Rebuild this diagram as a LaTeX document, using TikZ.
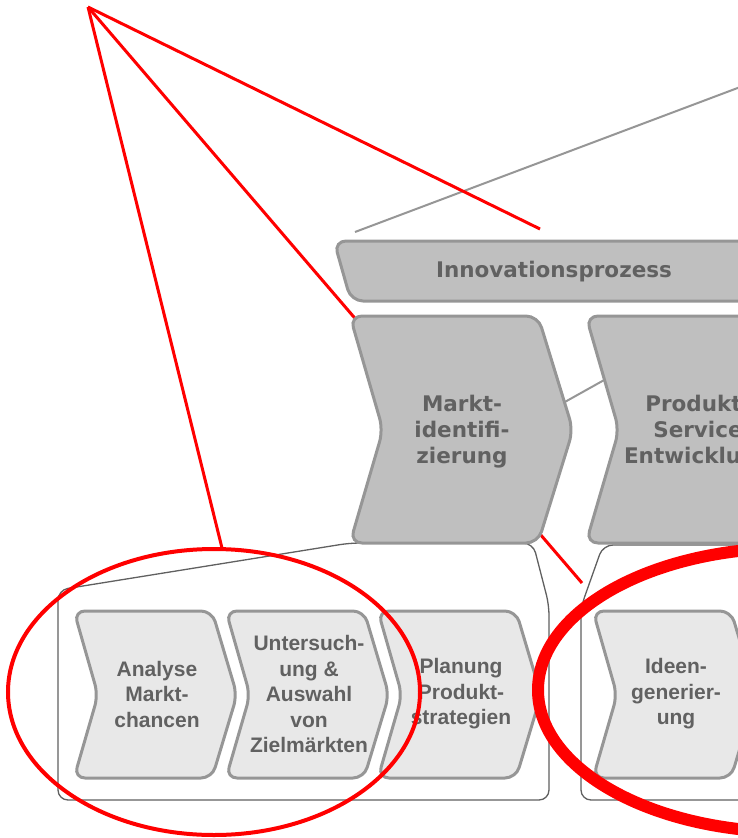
\documentclass[tikz,border=0pt]{standalone}
\usepackage{fontspec}
\usepackage{tikz}
\newfontfamily\verdfont{DejaVu Sans}
\newfontfamily\arialfont{Liberation Sans}
\definecolor{boxgray}{HTML}{BFBFBF}
\definecolor{lightbox}{HTML}{E8E8E8}
\definecolor{rimgray}{HTML}{969696}
\definecolor{textgray}{HTML}{616161}
\definecolor{framegray}{HTML}{606060}
\tikzset{
  bigstage/.style={fill=boxgray, draw=rimgray, line width=3, rounded corners=12},
  smallstage/.style={fill=lightbox, draw=rimgray, line width=3, rounded corners=11},
  bigtext/.style={text=textgray, align=center, font=\verdfont\bfseries\fontsize{21.5}{26}\selectfont},
  smalltext/.style={text=textgray, align=center, font=\arialfont\bfseries\fontsize{21}{25.5}\selectfont},
  zoomframe/.style={draw=framegray, line width=1.3, rounded corners=10},
  marker/.style={draw=red, line width=3}
}

\begin{document}
\begin{tikzpicture}[x=1pt, y=-1pt]
	\useasboundingbox (0,0) rectangle (738,838);
	\clip (0,0) rectangle (738,838);
	\coordinate (apex) at (88,7);
	\coordinate (tipbar) at (540,229);
	\coordinate (tipmarkt) at (582,583);
	\coordinate (tipleft) at (222,548);
	\draw [zoomframe] (58,800) -- (58,590) -- (350,543) -- (533,543) -- (549,605) -- (549,800) -- cycle;
	\draw [zoomframe] (581,800) -- (581,607) -- (603,545) -- (820,545) -- (820,800) -- cycle;
	\draw [rimgray, line width=2] (355,232) -- (820,57);
	\draw [rimgray, line width=2] (563,403) -- (640,360);
	\draw [marker] (apex) -- (tipmarkt);
	\draw [bigstage] (334,241) -- (820,241) -- (820,301) -- (351,301) -- cycle;
	\node [bigtext] (innov) at (554,272) {Innovationsprozess};
	\foreach \x/\t/\n in {350/{Markt-\\identifi-\\zierung}/markt, 586/{Produkt-\\Service\\Entwicklung}/produkt} {
		\draw [bigstage] (\x,316) -- ++(188,0) -- ++(35,114) -- ++(-35,113) -- ++(-188,0) -- ++(33,-113) -- cycle;
		\node [bigtext] (\n) at (\x+112,432) {\t};
	}
	\foreach \x/\t/\n in {74/{Analyse\\Markt-\\chancen}/analyse, 226/{Untersuch-\\ung \&\\Auswahl\\von\\Zielmärkten}/auswahl, 378/{Planung\\Produkt-\\strategien}/planung, 593/{Ideen-\\generier-\\ung}/ideen} {
		\draw [smallstage] (\x,611) -- ++(138,0) -- ++(25,84) -- ++(-25,83) -- ++(-138,0) -- ++(24,-83) -- cycle;
		\node [smalltext] (\n) at (\x+83,694) {\t};
	}
	\draw [marker] (apex) -- (tipbar);
	\draw [marker] (apex) -- (tipleft);
	\draw [red, line width=4] (214,692) ellipse [x radius=206, y radius=143];
	\draw [red, line width=12] (790,690) ellipse [x radius=252, y radius=142];
\end{tikzpicture}
\end{document}
